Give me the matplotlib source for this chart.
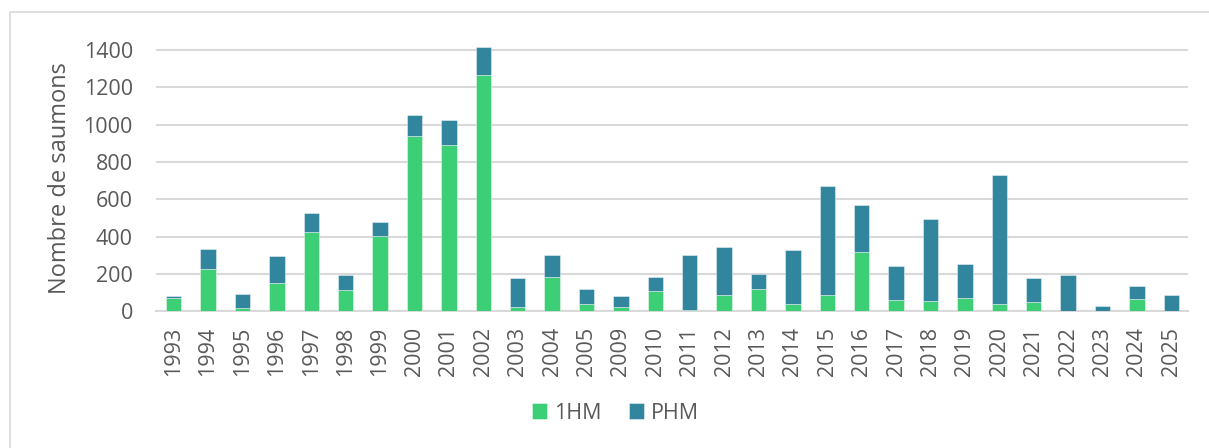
import matplotlib
matplotlib.use("Agg")
import matplotlib.pyplot as plt
from matplotlib.patches import Rectangle
import numpy as np

years = ["1993", "1994", "1995", "1996", "1997", "1998", "1999", "2000", "2001", "2002",
         "2003", "2004", "2005", "2009", "2010", "2011", "2012", "2013", "2014", "2015",
         "2016", "2017", "2018", "2019", "2020", "2021", "2022", "2023", "2024", "2025"]
hm1 = [71, 227, 18, 154, 423, 116, 405, 941, 893, 1266,
       23, 187, 39, 23, 109, 7, 86, 120, 39, 87,
       316, 61, 55, 71, 39, 50, 0, 0, 66, 0]
phm = [11, 107, 77, 141, 104, 77, 75, 112, 130, 151,
       157, 115, 79, 61, 75, 298, 260, 80, 291, 584,
       252, 180, 438, 182, 691, 127, 198, 32, 68, 87]

green = "#3DCF76"
blue = "#31859C"
text_col = "#595959"
grid_col = "#D9D9D9"

plt.rcParams['font.family'] = ['Open Sans', 'DejaVu Sans']

fig = plt.figure(figsize=(12.09, 4.48), dpi=100)
ax = fig.add_axes([0.1294, 0.3047, 0.8536, 0.5963])

x = np.arange(len(years))
w = 0.45
ax.bar(x, hm1, width=w, color=green, edgecolor=(1, 1, 1, 0.5), linewidth=0.6, label="1HM", zorder=3)
ax.bar(x, phm, width=w, bottom=hm1, color=blue, edgecolor=(1, 1, 1, 0.5), linewidth=0.6, label="PHM", zorder=3)

ax.set_xlim(-0.5, len(years) - 0.5)
ax.set_ylim(0, 1430)
ax.set_yticks(range(0, 1401, 200))
ax.yaxis.grid(True, color=grid_col, linewidth=1.5, zorder=0)
ax.set_axisbelow(True)
for s in ["top", "right", "left"]:
    ax.spines[s].set_visible(False)
ax.spines["bottom"].set_color(grid_col)
ax.spines["bottom"].set_linewidth(1.5)
ax.set_xticks(x)
ax.set_xticklabels(years, rotation=90)
ax.tick_params(axis="both", length=0, labelsize=15.5, labelcolor=text_col)
ax.tick_params(axis="y", pad=17)
ax.tick_params(axis="x", pad=11)
ax.set_ylabel("Nombre de saumons", fontsize=17, color=text_col, labelpad=8)

leg = fig.legend(loc="center", bbox_to_anchor=(0.509, 0.078), ncol=2, frameon=False,
                 fontsize=15.5, labelcolor=text_col, handlelength=0.7, handleheight=0.7,
                 handletextpad=0.3, columnspacing=1.3)

fig.patches.append(Rectangle((10 / 1209, -20 / 448), 1230 / 1209, 456 / 448, transform=fig.transFigure,
                             fill=False, edgecolor=grid_col, linewidth=1.2, clip_on=False))

fig.savefig("out.png", dpi=100)
